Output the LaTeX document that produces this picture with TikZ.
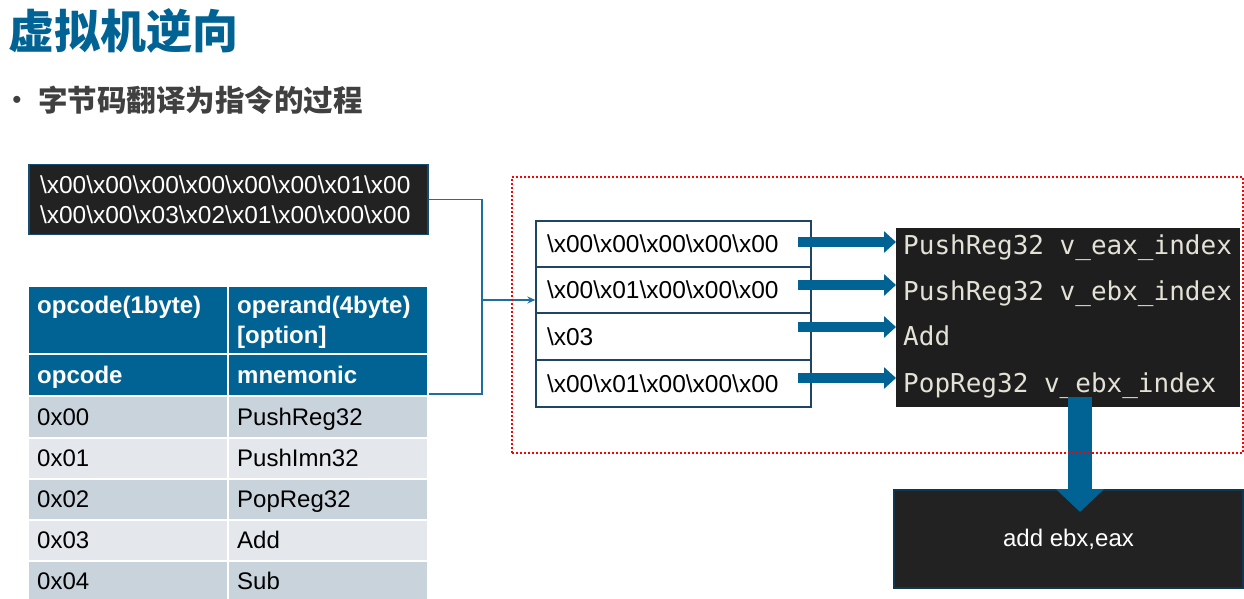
\documentclass[tikz,border=0pt]{standalone}
\usepackage{fontspec}
\setmainfont{Liberation Sans}
\newfontfamily\cjk{Noto Sans CJK SC}
\newfontfamily\codefont{DejaVu Sans Mono}
\usetikzlibrary{arrows.meta}
\definecolor{tblue}{RGB}{0,99,148}
\definecolor{lineblue}{RGB}{30,110,160}
\definecolor{segborder}{RGB}{30,70,100}
\definecolor{darkbox}{RGB}{34,34,34}
\definecolor{codebg}{RGB}{30,30,30}
\definecolor{codetxt}{RGB}{228,226,214}
\definecolor{rowdark}{RGB}{201,211,220}
\definecolor{rowlight}{RGB}{228,232,236}
\definecolor{subgray}{RGB}{64,64,64}
\newcommand\bsl{\textbackslash}
\begin{document}
\begin{tikzpicture}[x=1pt,y=-1pt,
  txt/.style={inner sep=0pt, font=\fontsize{24}{29}\selectfont},
  hdr/.style={txt, text=white, font=\fontsize{24}{29}\selectfont\bfseries},
  cell/.style={draw=white, line width=2pt, minimum width=200pt, inner sep=0pt, anchor=north west},
  segbox/.style={draw=segborder, line width=1.3pt, fill=white, minimum width=275pt, text width=253pt, inner xsep=11pt, inner ysep=0pt, align=left, font=\fontsize{24.5}{29}\selectfont},
  conn/.style={draw=lineblue, line width=1.3pt},
  fat/.style={draw=tblue, line width=10pt, -{Triangle[length=12pt,width=21pt]}},
  fatdown/.style={draw=tblue, line width=24pt, -{Triangle[length=23pt,width=47pt]}},
  codeline/.style={inner sep=0pt, text=codetxt, font=\codefont\fontsize{26}{26}\selectfont, anchor=base west}
]
\useasboundingbox (0,0) rectangle (1244,599);
\fill[white] (0,0) rectangle (1244,599);

% titles
\node[inner sep=0pt, anchor=west, text=tblue, font=\cjk\bfseries\fontsize{46}{46}\selectfont] (title) at (8,31) {虚拟机逆向};
\node[inner sep=0pt, text=subgray, font=\fontsize{26}{26}\selectfont] (bullet) at (17,102) {•};
\node[inner sep=0pt, anchor=west, text=subgray, font=\cjk\bfseries\fontsize{29.5}{29.5}\selectfont] (subtitle) at (38,100.5) {字节码翻译为指令的过程};

% bytecode box
\node[fill=darkbox, draw=lineblue!70!black, line width=1.2pt, minimum width=399pt, minimum height=70pt, text width=377pt, inner xsep=11pt, inner ysep=0pt, align=left, text=white, font=\fontsize{24.5}{29.5}\selectfont] (bytes) at (228.5,199.5)
 {\bsl x00\bsl x00\bsl x00\bsl x00\bsl x00\bsl x00\bsl x01\bsl x00\\\bsl x00\bsl x00\bsl x03\bsl x02\bsl x01\bsl x00\bsl x00\bsl x00};

% table
\node[cell, fill=tblue, minimum height=68pt] (h1a) at (27,285) {};
\node[cell, fill=tblue, minimum height=68pt] (h1b) at (227,285) {};
\node[cell, fill=tblue, minimum height=42pt] (h2a) at (27,353) {};
\node[cell, fill=tblue, minimum height=42pt] (h2b) at (227,353) {};
\node[cell, fill=rowdark, minimum height=42pt] (r0a) at (27,395) {};
\node[cell, fill=rowdark, minimum height=42pt] (r0b) at (227,395) {};
\node[cell, fill=rowlight, minimum height=41pt] (r1a) at (27,437) {};
\node[cell, fill=rowlight, minimum height=41pt] (r1b) at (227,437) {};
\node[cell, fill=rowdark, minimum height=41pt] (r2a) at (27,478) {};
\node[cell, fill=rowdark, minimum height=41pt] (r2b) at (227,478) {};
\node[cell, fill=rowlight, minimum height=41pt] (r3a) at (27,519) {};
\node[cell, fill=rowlight, minimum height=41pt] (r3b) at (227,519) {};
\node[cell, fill=rowdark, minimum height=42pt] (r4a) at (27,560) {};
\node[cell, fill=rowdark, minimum height=42pt] (r4b) at (227,560) {};

\node[hdr, anchor=base west] (t1a) at (37,313) {opcode(1byte)};
\node[hdr, anchor=base west] (t1b) at (237,313) {operand(4byte)};
\node[hdr, anchor=base west] (t1c) at (237,343) {[option]};
\node[hdr, anchor=base west] (t2a) at (37,383) {opcode};
\node[hdr, anchor=base west] (t2b) at (237,383) {mnemonic};
\node[txt, anchor=base west] (c0a) at (37,425) {0x00};
\node[txt, anchor=base west] (c0b) at (237,425) {PushReg32};
\node[txt, anchor=base west] (c1a) at (37,466) {0x01};
\node[txt, anchor=base west] (c1b) at (237,466) {PushImn32};
\node[txt, anchor=base west] (c2a) at (37,507) {0x02};
\node[txt, anchor=base west] (c2b) at (237,507) {PopReg32};
\node[txt, anchor=base west] (c3a) at (37,548) {0x03};
\node[txt, anchor=base west] (c3b) at (237,548) {Add};
\node[txt, anchor=base west] (c4a) at (37,589) {0x04};
\node[txt, anchor=base west] (c4b) at (237,589) {Sub};

% segment boxes
\node[segbox, minimum height=46pt] (seg1) at (673.5,244) {\bsl x00\bsl x00\bsl x00\bsl x00\bsl x00};
\node[segbox, minimum height=46pt] (seg2) at (673.5,290) {\bsl x00\bsl x01\bsl x00\bsl x00\bsl x00};
\node[segbox, minimum height=47pt] (seg3) at (673.5,336.5) {\bsl x03};
\node[segbox, minimum height=47pt] (seg4) at (673.5,383.5) {\bsl x00\bsl x01\bsl x00\bsl x00\bsl x00};

% connectors
\coordinate (jm) at (482,300);
\coordinate (jb) at (482,394);
\draw[conn] (bytes.east) -| (jb) -- (jb -| h2b.east);
\draw[conn, -{Stealth[length=8pt,width=7pt]}] (jm) -- (jm -| seg2.west);

% code box
\node[fill=codebg, minimum width=344pt, minimum height=179pt, inner sep=0pt, anchor=north west] (code) at (896,228) {};
\node[codeline] (l1) at (903,254) {PushReg32 v\_eax\_index};
\node[codeline] (l2) at (903,300) {PushReg32 v\_ebx\_index};
\node[codeline] (l3) at (903,345) {Add};
\node[codeline] (l4) at (903,392) {PopReg32 v\_ebx\_index};

% fat arrows
\coordinate (a1) at (798,242);
\coordinate (a2) at (798,285);
\coordinate (a3) at (798,327);
\coordinate (a4) at (798,378);
\draw[fat] (a1) -- (a1 -| code.west);
\draw[fat] (a2) -- (a2 -| code.west);
\draw[fat] (a3) -- (a3 -| code.west);
\draw[fat] (a4) -- (a4 -| code.west);

% result box
\node[fill=darkbox, draw=lineblue!50!black, line width=1.2pt, minimum width=349pt, minimum height=98pt, inner sep=0pt, text=white, font=\fontsize{24}{29}\selectfont] (result) at (1068.5,539) {add ebx,eax};
\coordinate (dstart) at (1080,397);
\coordinate (dtip) at (1080,512);
\draw[fatdown] (dstart) -- (dtip);

% red dotted region
\node[draw=red, line width=2pt, dash pattern=on 2pt off 2pt, minimum width=731pt, minimum height=276pt, inner sep=0pt, anchor=north west] (zone) at (511,176) {};
\end{tikzpicture}
\end{document}
